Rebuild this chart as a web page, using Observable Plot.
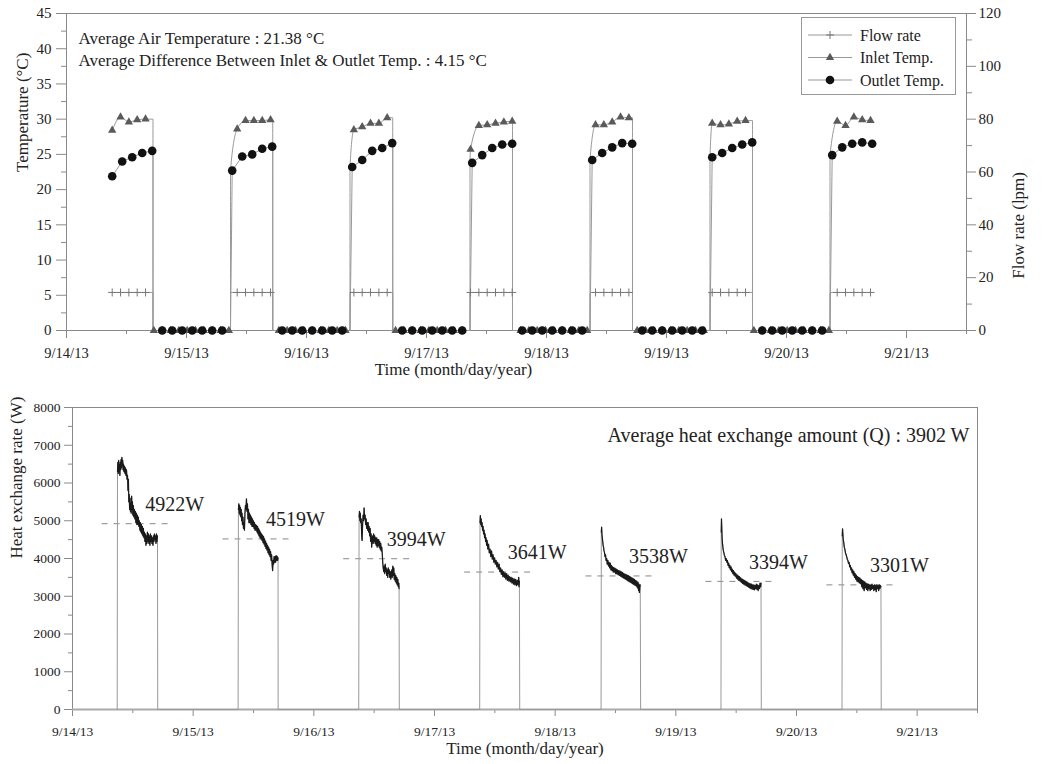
<!DOCTYPE html>
<html><head><meta charset="utf-8">
<script src="https://cdn.jsdelivr.net/npm/d3@7"></script>
<script src="https://cdn.jsdelivr.net/npm/@observablehq/plot@0.6"></script>
<style>
body{margin:0;background:#fff;font-family:"Liberation Serif",serif;}
#wrap{position:relative;width:1045px;height:764px;overflow:hidden}
#topc{position:absolute;left:0;top:0}
#botc{position:absolute;left:0;top:390px}
#legend{position:absolute;left:801px;top:17px;width:155px;height:78px;border:1px solid #999;background:#fff;box-sizing:border-box}
#legend svg{display:block}
svg text{font-family:"Liberation Serif","Times New Roman",serif}
</style></head><body>
<div id="wrap"><div id="topc"></div><div id="botc"></div><div id="legend"></div></div>
<script>
// ---------- shared time axis ----------
const dayLabels = ["9/14/13","9/15/13","9/16/13","9/17/13","9/18/13","9/19/13","9/20/13","9/21/13"];
const T0 = Date.UTC(2013, 8, 14);
const toDate = h => new Date(T0 + h * 3600e3);
const dayTicks = dayLabels.map((_, i) => toDate(24 * i));
const halfTicks = dayLabels.map((_, i) => toDate(24 * i + 12));
const xDomain = [toDate(0), toDate(180)];
const fmtDay = d => dayLabels[Math.round((d - T0) / 864e5)];

// ---------- top chart data ----------
const tempTicks = [0,5,10,15,20,25,30,35,40,45];
const tempMinor = [2.5,7.5,12.5,17.5,22.5,27.5,32.5,37.5,42.5];
const flowTicks = [0,20,40,60,80,100,120];
const flowMinor = [10,30,50,70,90,110];
const firstSampleHour = 9.14;
const outletStepHours = 2;        // outlet marker interval
const inletStepHours = 100 / 60;  // inlet / flow marker interval
const pumpOn  = [32.8, 56.7, 80.7, 104.7, 128.7, 152.7];   // hours after 9/14 00:00
const pumpOff = [17.3, 41.25, 65.25, 89.2, 113.2, 137.2];
const outletTemp = [
  21.9,24.0,24.6,25.2,25.5, 0,0,0,0,0,0,0,
  22.7,24.7,25.0,25.8,26.1, 0,0,0,0,0,0,0,
  23.2,24.2,25.5,25.9,26.6, 0,0,0,0,0,0,0,
  23.8,24.9,25.9,26.4,26.5, 0,0,0,0,0,0,0,
  24.2,25.2,26.0,26.6,26.5, 0,0,0,0,0,0,0,
  24.6,25.2,25.9,26.4,26.7, 0,0,0,0,0,0,0,
  24.9,26.0,26.5,26.7,26.5
];
const inletTemp = [
  28.4,30.3,29.6,29.9,30.0, 0,0,0,0,0,0,0,0,0,0,
  28.6,29.8,29.8,29.8,29.9, 0,0,0,0,0,0,0,0,0,
  28.5,28.9,29.4,29.4,30.2, 0,0,0,0,0,0,0,0,0,
  25.7,29.1,29.2,29.4,29.6,29.7, 0,0,0,0,0,0,0,0,0,
  29.2,29.2,29.6,30.3,30.2, 0,0,0,0,0,0,0,0,0,
  29.4,29.2,29.3,29.7,29.8, 0,0,0,0,0,0,0,0,0,0,
  29.7,29.1,30.3,29.9,29.8
];
const flowRate = [
  14.4,14.4,14.4,14.4,14.4, 0,0,0,0,0,0,0,0,0,0,
  14.4,14.4,14.4,14.4,14.4, 0,0,0,0,0,0,0,0,0,
  14.4,14.4,14.4,14.4,14.4, 0,0,0,0,0,0,0,0,0,
  14.4,14.4,14.4,14.4,14.4,14.4, 0,0,0,0,0,0,0,0,0,
  14.4,14.4,14.4,14.4,14.4, 0,0,0,0,0,0,0,0,0,
  14.4,14.4,14.4,14.4,14.4, 0,0,0,0,0,0,0,0,0,0,
  14.4,14.4,14.4,14.4,14.4
];
const inletRise = [22.7, 23.2, 23.8, 24.2, 24.6, 24.9];  // value where the inlet trace leaves the vertical at pump start
const annotTop = ["Average Air Temperature : 21.38 °C",
                  "Average Difference Between Inlet & Outlet Temp. : 4.15 °C"];

// ---------- bottom chart data ----------
const qTicks = [0,1000,2000,3000,4000,5000,6000,7000,8000];
const qMinor = [500,1500,2500,3500,4500,5500,6500,7500];
const qMean = [4922, 4519, 3994, 3641, 3538, 3394, 3301];
const qAnnot = "Average heat exchange amount (Q) : 3902 W";
const q1 = [[8.89,0],[8.95,6300],[9.02,6550],[9.1,6250],[9.18,6600],[9.26,6300],[9.34,6480],[9.42,6200],[9.5,6550],[9.58,6350],[9.66,6620],[9.74,6400],[9.82,6680],[9.9,6450],[9.98,6600],[10.06,6350],[10.14,6500],[10.24,6300],[10.34,6450],[10.44,6250],[10.54,6400],[10.64,6200],[10.74,6350],[10.84,6100],[10.94,6200],[11.04,5800],[11.12,6100],[11.2,5500],[11.28,5700],[11.36,5300],[11.44,5600],[11.52,5250],[11.6,5450],[11.68,5200],[11.76,5650],[11.84,5300],[11.92,5500],[12.0,5150],[12.1,5400],[12.2,5100],[12.3,5300],[12.4,5050],[12.5,5250],[12.6,4950],[12.7,5200],[12.8,4900],[12.9,5150],[13.0,4900],[13.1,5100],[13.2,4850],[13.3,5000],[13.4,4750],[13.5,4950],[13.6,4700],[13.7,4900],[13.8,4650],[13.9,4850],[14.0,4600],[14.1,4800],[14.2,4550],[14.3,4700],[14.4,4450],[14.5,4650],[14.6,4350],[14.7,4600],[14.8,4400],[14.9,4700],[15.0,4450],[15.1,4650],[15.2,4400],[15.3,4600],[15.4,4350],[15.5,4650],[15.6,4450],[15.7,4600],[15.8,4400],[15.9,4550],[16.0,4350],[16.1,4600],[16.2,4450],[16.3,4650],[16.4,4500],[16.5,4600],[16.6,4400],[16.7,4650],[16.8,4450],[16.9,4600],[16.95,0]];
const q2 = [[32.94,0],[33.0,5300],[33.08,5450],[33.16,5200],[33.24,5400],[33.32,5150],[33.4,5350],[33.48,5100],[33.56,5300],[33.64,5000],[33.72,5200],[33.8,4900],[33.9,5100],[34.0,4800],[34.1,4950],[34.2,4750],[34.3,5200],[34.4,5400],[34.5,5300],[34.6,5580],[34.7,5250],[34.8,5450],[34.9,5050],[35.0,5300],[35.1,4950],[35.2,5200],[35.3,4950],[35.4,5150],[35.5,4900],[35.6,5100],[35.7,4850],[35.8,5050],[35.9,4850],[36.0,5000],[36.1,4800],[36.2,4950],[36.3,4750],[36.4,4900],[36.5,4750],[36.6,4880],[36.7,4700],[36.8,4850],[36.9,4650],[37.0,4800],[37.1,4600],[37.2,4750],[37.3,4550],[37.4,4700],[37.5,4520],[37.6,4650],[37.7,4480],[37.8,4620],[37.9,4420],[38.0,4580],[38.1,4380],[38.2,4520],[38.3,4320],[38.4,4460],[38.5,4260],[38.6,4400],[38.7,4220],[38.8,4350],[38.9,4150],[39.0,4300],[39.1,4100],[39.2,4250],[39.3,4050],[39.4,4180],[39.5,3950],[39.6,4100],[39.7,3850],[39.8,3680],[39.9,3950],[40.0,3850],[40.1,4050],[40.2,3900],[40.3,4050],[40.4,3900],[40.5,4080],[40.6,3950],[40.7,4060],[40.8,3950],[40.88,4020],[40.9,0]];
const q3 = [[56.93,0],[57.0,5100],[57.08,5250],[57.16,5000],[57.24,5200],[57.32,4950],[57.42,5050],[57.52,4600],[57.6,4477],[57.7,4900],[57.8,5150],[57.9,5000],[58.0,5340],[58.1,5050],[58.2,5150],[58.3,4900],[58.4,5050],[58.5,4800],[58.6,4950],[58.7,4750],[58.8,4950],[58.9,4700],[59.0,4850],[59.1,4600],[59.2,4800],[59.3,4450],[59.4,4650],[59.5,4300],[59.6,4500],[59.7,4600],[59.8,4400],[59.9,4650],[60.0,4450],[60.1,4600],[60.2,4400],[60.3,4550],[60.4,4350],[60.5,4550],[60.6,4300],[60.7,4500],[60.8,4350],[60.9,4500],[61.0,4300],[61.1,4450],[61.2,4250],[61.3,4400],[61.4,4200],[61.5,4300],[61.6,4150],[61.7,3900],[61.8,3750],[61.9,3650],[62.0,3800],[62.1,3600],[62.2,3850],[62.3,3650],[62.4,3750],[62.5,3550],[62.6,3700],[62.7,3500],[62.8,3750],[62.9,3600],[63.0,3700],[63.1,3500],[63.2,3650],[63.3,3450],[63.4,3600],[63.5,3700],[63.6,3500],[63.7,3800],[63.8,3550],[63.9,3750],[64.0,3450],[64.1,3600],[64.2,3400],[64.3,3550],[64.4,3350],[64.5,3500],[64.6,3300],[64.7,3450],[64.8,3250],[64.9,3350],[64.96,3200],[65.0,0]];
const q4 = [[80.99,0],[81.05,4950],[81.12,5139],[81.2,4900],[81.28,5050],[81.36,4850],[81.46,4950],[81.56,4750],[81.66,4850],[81.76,4650],[81.86,4750],[81.96,4550],[82.06,4650],[82.16,4450],[82.26,4550],[82.36,4350],[82.46,4480],[82.6,4250],[82.75,4380],[82.9,4150],[83.05,4250],[83.2,4050],[83.35,4200],[83.5,3980],[83.65,4100],[83.8,3900],[83.95,4020],[84.1,3850],[84.25,3950],[84.4,3780],[84.55,3900],[84.7,3720],[84.85,3850],[85.0,3650],[85.15,3750],[85.3,3580],[85.45,3700],[85.6,3520],[85.75,3650],[85.9,3500],[86.05,3620],[86.2,3450],[86.35,3600],[86.5,3420],[86.65,3560],[86.8,3400],[86.95,3520],[87.1,3380],[87.25,3500],[87.4,3350],[87.55,3480],[87.7,3320],[87.85,3460],[88.0,3300],[88.15,3450],[88.3,3280],[88.45,3420],[88.6,3300],[88.75,3500],[88.82,3250],[88.89,3400],[88.95,0]];
const q5 = [[105.13,0],[105.18,4700],[105.24,4830],[105.3,4650],[105.38,4550],[105.46,4450],[105.54,4350],[105.62,4300],[105.72,4200],[105.82,4150],[105.92,4050],[106.02,4100],[106.12,3950],[106.24,4000],[106.36,3850],[106.48,3950],[106.6,3800],[106.72,3900],[106.84,3750],[106.96,3880],[107.08,3700],[107.2,3820],[107.32,3680],[107.44,3780],[107.56,3640],[107.68,3760],[107.8,3640],[107.92,3740],[108.04,3600],[108.16,3720],[108.28,3590],[108.4,3700],[108.52,3570],[108.64,3680],[108.76,3550],[108.88,3670],[109.0,3530],[109.12,3650],[109.24,3510],[109.36,3630],[109.48,3490],[109.6,3610],[109.72,3470],[109.84,3590],[109.96,3450],[110.08,3580],[110.2,3430],[110.32,3560],[110.44,3410],[110.56,3550],[110.68,3390],[110.8,3530],[110.92,3370],[111.04,3510],[111.16,3350],[111.28,3490],[111.4,3330],[111.52,3470],[111.64,3310],[111.76,3450],[111.88,3290],[112.0,3420],[112.12,3270],[112.24,3400],[112.36,3220],[112.48,3370],[112.58,3150],[112.68,3320],[112.76,3100],[112.84,3250],[112.92,3300],[113.0,0]];
const q6 = [[128.98,0],[129.03,4700],[129.08,5051],[129.14,4800],[129.2,4550],[129.28,4400],[129.36,4300],[129.46,4200],[129.56,4150],[129.66,4080],[129.78,4050],[129.9,3950],[130.02,4000],[130.14,3900],[130.26,3950],[130.38,3820],[130.5,3880],[130.62,3760],[130.74,3820],[130.86,3700],[130.98,3780],[131.1,3650],[131.22,3720],[131.34,3600],[131.46,3680],[131.58,3560],[131.7,3640],[131.82,3530],[131.94,3600],[132.06,3480],[132.18,3570],[132.3,3450],[132.42,3540],[132.54,3420],[132.66,3520],[132.78,3400],[132.9,3490],[133.02,3370],[133.14,3460],[133.26,3340],[133.38,3440],[133.5,3320],[133.62,3420],[133.74,3300],[133.86,3400],[133.98,3280],[134.1,3380],[134.22,3260],[134.34,3360],[134.46,3240],[134.58,3340],[134.7,3220],[134.82,3330],[134.94,3200],[135.06,3320],[135.18,3190],[135.3,3300],[135.42,3180],[135.54,3300],[135.66,3170],[135.78,3280],[135.9,3200],[136.02,3320],[136.14,3180],[136.26,3300],[136.38,3150],[136.5,3280],[136.62,3200],[136.74,3350],[136.86,3250],[136.94,3350],[137.0,0]];
const q7 = [[153.05,0],[153.1,4600],[153.16,4786],[153.22,4650],[153.3,4500],[153.4,4420],[153.5,4300],[153.62,4250],[153.74,4150],[153.86,4100],[153.98,4050],[154.1,3980],[154.22,3950],[154.34,3870],[154.46,3900],[154.58,3780],[154.7,3820],[154.82,3700],[154.94,3750],[155.06,3620],[155.18,3700],[155.3,3560],[155.42,3650],[155.54,3500],[155.66,3600],[155.78,3450],[155.9,3560],[156.02,3400],[156.14,3520],[156.26,3380],[156.38,3500],[156.5,3350],[156.62,3480],[156.74,3330],[156.86,3450],[156.98,3250],[157.1,3420],[157.22,3200],[157.34,3400],[157.46,3150],[157.58,3380],[157.7,3220],[157.82,3350],[157.94,3180],[158.06,3330],[158.18,3150],[158.3,3320],[158.42,3200],[158.54,3300],[158.66,3150],[158.78,3300],[158.9,3180],[159.02,3320],[159.14,3200],[159.26,3280],[159.38,3150],[159.5,3300],[159.62,3180],[159.74,3280],[159.86,3120],[159.98,3300],[160.1,3200],[160.22,3280],[160.34,3150],[160.46,3300],[160.58,3200],[160.7,3280],[160.8,3250],[160.85,0]];
const qCycles = [q1, q2, q3, q4, q5, q6, q7];

// ---------- build tables ----------
const outletPts = outletTemp.map((v, k) => ({h: firstSampleHour + k * outletStepHours, v}));
const inletPts = inletTemp.map((v, k) => ({h: firstSampleHour + k * inletStepHours, v}));
const flowPts = flowRate.map((v, k) => ({h: firstSampleHour + k * inletStepHours, v: v * 45 / 120}));
function withSwitches(pts, riseVals) {
  const out = pts.slice();
  pumpOff.forEach(off => {
    const last = pts.filter(p => p.h < off && p.v > 0).pop();
    out.push({h: off - 0.001, v: last.v}, {h: off, v: 0});
  });
  pumpOn.forEach((on, i) => {
    out.push({h: on, v: 0});
    if (riseVals) out.push({h: on + 0.001, v: riseVals[i]});
  });
  return out.sort((a, b) => a.h - b.h);
}
const inletLine = withSwitches(inletPts, inletRise);
const outletLine = withSwitches(outletPts);
const flowLine = withSwitches(flowPts, pumpOn.map(() => 14.4 * 45 / 120));

const qLine = qCycles.flatMap((c, i) => c.map(([h, v]) => ({h, v, c: i})));
const qTops = qLine.filter(d => d.v > 0);
const qMeans = qMean.map((m, i) => ({m, on: qCycles[i][0][0], off: qCycles[i][qCycles[i].length - 1][0]}));

// ---------- helpers ----------
const plusSymbol = {draw(ctx, size) { const r = Math.sqrt(size / Math.PI); ctx.moveTo(-r, 0); ctx.lineTo(r, 0); ctx.moveTo(0, -r); ctx.lineTo(0, r); }};
const axisGray = "#8a8a8a";
const txt = "#222";
const FONT = "Liberation Serif, Times New Roman, serif";

// ---------- top chart ----------
const topChart = Plot.plot({
  width: 1045, height: 390,
  marginTop: 13, marginBottom: 60, marginLeft: 66, marginRight: 79,
  style: {fontFamily: FONT, fontSize: "14px", color: txt, background: "#fff"},
  x: {type: "utc", domain: xDomain},
  y: {domain: [0, 45]},
  marks: [
    Plot.frame({stroke: axisGray}),
    Plot.axisX({ticks: dayTicks, tickFormat: fmtDay, tickSize: 8, tickPadding: 9, stroke: axisGray, fill: txt, label: null, fontSize: 14.5, fontFamily: FONT}),
    Plot.axisX({ticks: halfTicks, tickFormat: () => "", tickSize: 4, stroke: axisGray, label: null}),
    Plot.axisY({ticks: tempTicks, tickSize: 10, tickPadding: 5, stroke: axisGray, fill: txt, label: null, fontSize: 15, fontFamily: FONT}),
    Plot.axisY({ticks: tempMinor, tickFormat: () => "", tickSize: 5, stroke: axisGray, label: null}),
    Plot.axisY({anchor: "right", ticks: flowTicks.map(f => f * 45 / 120), tickFormat: d => Math.round(d * 120 / 45), tickSize: 9, tickPadding: 3, stroke: axisGray, fill: txt, label: null, fontSize: 15, fontFamily: FONT}),
    Plot.axisY({anchor: "right", ticks: flowMinor.map(f => f * 45 / 120), tickFormat: () => "", tickSize: 5, stroke: axisGray, label: null}),
    Plot.line(flowLine, {x: d => toDate(d.h), y: "v", stroke: "#999", strokeWidth: 1}),
    Plot.line(inletLine, {x: d => toDate(d.h), y: "v", stroke: "#999", strokeWidth: 1, curve: "monotone-x"}),
    Plot.line(outletLine, {x: d => toDate(d.h), y: "v", stroke: "#999", strokeWidth: 1}),
    Plot.dot(flowPts.filter(d => d.v > 0), {x: d => toDate(d.h), y: "v", symbol: plusSymbol, r: 4, stroke: "#777", strokeWidth: 1, fill: "none"}),
    Plot.dot(inletPts, {x: d => toDate(d.h), y: "v", symbol: "triangle", r: 3.1, fill: "#5a5a5a", stroke: "none"}),
    Plot.dot(outletPts, {x: d => toDate(d.h), y: "v", symbol: "circle", r: 4.3, fill: "#111", stroke: "none"}),
    Plot.text([annotTop[0]], {frameAnchor: "top-left", dx: 12, dy: 18, textAnchor: "start", fontSize: 17, fill: txt, fontFamily: FONT}),
    Plot.text([annotTop[1]], {frameAnchor: "top-left", dx: 12, dy: 40, textAnchor: "start", fontSize: 17, fill: txt, fontFamily: FONT}),
    Plot.text(["Temperature (°C)"], {frameAnchor: "left", dx: -44, rotate: -90, fontSize: 17, fill: txt, fontFamily: FONT}),
    Plot.text(["Flow rate (lpm)"], {frameAnchor: "right", dx: 52, rotate: -90, fontSize: 17, fill: txt, fontFamily: FONT}),
    Plot.text(["Time (month/day/year)"], {frameAnchor: "bottom", dx: -63, dy: 44, fontSize: 17, fill: txt, fontFamily: FONT})
  ]
});
document.getElementById("topc").appendChild(topChart);

// ---------- bottom chart ----------
const botChart = Plot.plot({
  width: 1045, height: 374,
  marginTop: 17, marginBottom: 55, marginLeft: 72, marginRight: 68,
  style: {fontFamily: FONT, fontSize: "13px", color: txt, background: "#fff"},
  x: {type: "utc", domain: xDomain},
  y: {domain: [0, 8000]},
  marks: [
    Plot.frame({stroke: axisGray}),
    Plot.axisX({ticks: dayTicks, tickFormat: fmtDay, tickSize: 7, tickPadding: 10, stroke: axisGray, fill: txt, label: null, fontSize: 13.5, fontFamily: FONT}),
    Plot.axisX({ticks: halfTicks, tickFormat: () => "", tickSize: 4, stroke: axisGray, label: null}),
    Plot.axisY({ticks: qTicks, tickFormat: d3.format("d"), tickSize: 8, tickPadding: 4, stroke: axisGray, fill: txt, label: null, fontSize: 13.5, fontFamily: FONT}),
    Plot.axisY({ticks: qMinor, tickFormat: () => "", tickSize: 4, stroke: axisGray, label: null}),
    Plot.ruleY(qMeans, {y: "m", x1: d => toDate(d.on - 3), x2: d => toDate(d.off + 2.4), stroke: "#888", strokeWidth: 1, strokeDasharray: "6,6"}),
    Plot.ruleY([0], {stroke: "#aaa", strokeWidth: 2}),
    Plot.line(qLine, {x: d => toDate(d.h), y: "v", stroke: "#999", strokeWidth: 1}),
    Plot.line(qTops, {x: d => toDate(d.h), y: "v", z: "c", stroke: "#1a1a1a", strokeWidth: 1.2}),
    Plot.text(qMeans, {x: d => toDate(d.on), y: "m", text: d => d.m + "W", dx: 28, dy: -19, textAnchor: "start", fontSize: 20, fill: txt, fontFamily: FONT}),
    Plot.text([qAnnot], {frameAnchor: "top-right", dx: -8, dy: 20, textAnchor: "end", fontSize: 20, fill: txt, fontFamily: FONT}),
    Plot.text(["Heat exchange rate (W)"], {frameAnchor: "left", dx: -56, rotate: -90, fontSize: 17, fill: txt, fontFamily: FONT}),
    Plot.text(["Time (month/day/year)"], {frameAnchor: "bottom", dy: 44, fontSize: 17, fill: txt, fontFamily: FONT})
  ]
});
document.getElementById("botc").appendChild(botChart);

// ---------- legend ----------
const legendItems = ["Flow rate", "Inlet Temp.", "Outlet Temp."];
const lg = d3.select("#legend").append("svg").attr("width", 153).attr("height", 76)
  .style("font-family", FONT).style("font-size", "16px");
legendItems.forEach((name, i) => {
  const y = 17 + i * 22.5;
  lg.append("line").attr("x1", 6).attr("x2", 50).attr("y1", y).attr("y2", y).attr("stroke", "#999");
  if (i === 0) lg.append("path").attr("d", `M24,${y}h8M28,${y-4}v8`).attr("stroke", "#777").attr("fill", "none");
  if (i === 1) lg.append("path").attr("d", d3.symbol(d3.symbolTriangle, 30)()).attr("transform", `translate(28,${y})`).attr("fill", "#5a5a5a");
  if (i === 2) lg.append("circle").attr("cx", 28).attr("cy", y).attr("r", 4.3).attr("fill", "#111");
  lg.append("text").attr("x", 58).attr("y", y).attr("dy", "0.35em").attr("fill", txt).text(name);
});
</script></body></html>
